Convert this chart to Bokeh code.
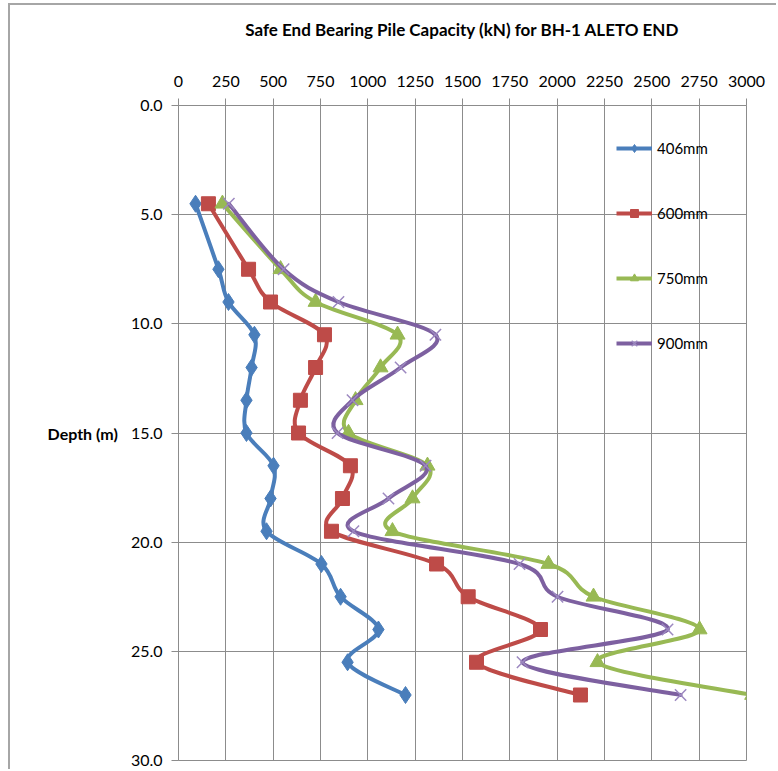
import numpy as np
from bokeh.plotting import figure
from bokeh.models import (Range1d, FixedTicker, PrintfTickFormatter, Legend, LegendItem,
                          Label, ColumnDataSource)
from bokeh.embed import file_html
from bokeh.resources import INLINE

# ---------------- data ----------------
depth = [4.5, 7.5, 9.0, 10.5, 12.0, 13.5, 15.0, 16.5, 18.0, 19.5, 21.0, 22.5, 24.0, 25.5, 27.0]
cap_406 = [90, 211, 264, 401, 386, 359, 359, 502, 486, 465, 755, 856, 1056, 893, 1199]
cap_600 = [158, 370, 486, 771, 724, 644, 634, 908, 866, 808, 1363, 1530, 1912, 1574, 2123]
cap_750 = [232, 539, 724, 1157, 1067, 935, 898, 1315, 1236, 1130, 1954, 2192, 2752, 2213, 3030]
cap_900 = [266, 555, 845, 1357, 1173, 919, 840, 1305, 1109, 924, 1801, 2002, 2583, 1817, 2652]
series_names = ["406mm", "600mm", "750mm", "900mm"]
x_ticks = [0, 250, 500, 750, 1000, 1250, 1500, 1750, 2000, 2250, 2500, 2750, 3000]
y_ticks = [0, 5, 10, 15, 20, 25, 30]
title_text = "Safe End Bearing Pile Capacity (kN) for BH-1 ALETO END"
y_label = "Depth (m)"

# ---------------- styles ----------------
colors = ["#4A7EBB", "#BE4B48", "#98B954", "#7D60A0"]
markers = ["diamond", "square", "triangle", "x"]
msizes = [17, 14, 15, 16]
grid_color = "#8c8c8c"
FONT = "Lato"


def smooth_source(xs, ys):
    """Excel-like smoothed line: Catmull-Rom style cubic Bezier segments."""
    n = len(xs)
    P = list(zip(xs, ys))
    d = dict(x0=[], y0=[], x1=[], y1=[], cx0=[], cy0=[], cx1=[], cy1=[])
    for i in range(n - 1):
        p0 = P[i - 1] if i > 0 else P[i]
        p1 = P[i]
        p2 = P[i + 1]
        p3 = P[i + 2] if i + 2 < n else P[i + 1]
        d["x0"].append(p1[0]); d["y0"].append(p1[1])
        d["x1"].append(p2[0]); d["y1"].append(p2[1])
        d["cx0"].append(p1[0] + (p2[0] - p0[0]) / 6.0)
        d["cy0"].append(p1[1] + (p2[1] - p0[1]) / 6.0)
        d["cx1"].append(p2[0] - (p3[0] - p1[0]) / 6.0)
        d["cy1"].append(p2[1] - (p3[1] - p1[1]) / 6.0)
    return ColumnDataSource(d)


# canvas is offset 10px right / 5px down so that a CSS border draws the chart-area frame
p = figure(width=768, height=766, output_backend="svg", toolbar_location=None,
           x_range=Range1d(0, 3000), y_range=Range1d(30, 0), x_axis_location="above",
           min_border_left=168, min_border_right=32, min_border_top=100, min_border_bottom=11)
p.styles = {"margin-left": "8px", "margin-top": "3px",
            "border-left": "2px solid #a6a6a6", "border-top": "2px solid #a6a6a6"}
p.background_fill_color = "white"
p.border_fill_color = "white"
p.outline_line_color = grid_color

# grids
p.xgrid.ticker = FixedTicker(ticks=x_ticks)
p.ygrid.ticker = FixedTicker(ticks=y_ticks)
for g in (p.xgrid[0], p.ygrid[0]):
    g.grid_line_color = grid_color
    g.grid_line_width = 1

# axes
xa = p.xaxis[0]
xa.ticker = FixedTicker(ticks=x_ticks)
xa.axis_label = title_text
xa.axis_label_text_font = FONT
xa.axis_label_text_font_style = "bold"
xa.axis_label_text_font_size = "17px"
xa.axis_label_text_color = "black"
xa.axis_label_standoff = 33
xa.major_label_text_font = FONT
xa.major_label_text_font_size = "16px"
xa.major_label_text_color = "black"
xa.major_label_standoff = 12

ya = p.yaxis[0]
ya.ticker = FixedTicker(ticks=y_ticks)
ya.formatter = PrintfTickFormatter(format="%.1f")
ya.major_label_text_font = FONT
ya.major_label_text_font_size = "16px"
ya.major_label_text_color = "black"
ya.major_label_standoff = 9

for a in (xa, ya):
    a.axis_line_color = grid_color
    a.major_tick_line_color = grid_color
    a.major_tick_out = 7
    a.major_tick_in = 0
    a.minor_tick_line_color = None

# horizontal "Depth (m)" axis title
if hasattr(ya, "axis_label_orientation"):
    ya.axis_label = y_label
    ya.axis_label_orientation = "horizontal"
    ya.axis_label_text_font = FONT
    ya.axis_label_text_font_style = "bold"
    ya.axis_label_text_font_size = "16px"
    ya.axis_label_text_color = "black"
    ya.axis_label_standoff = 10
else:
    p.add_layout(Label(x=-317, y=15, text=y_label, text_align="right", text_baseline="middle",
                       text_font=FONT, text_font_style="bold", text_font_size="16px",
                       text_color="black"))

# series
all_caps = [cap_406, cap_600, cap_750, cap_900]
items = []
for name, caps, col, mk, ms in zip(series_names, all_caps, colors, markers, msizes):
    src = smooth_source(caps, depth)
    p.bezier(x0="x0", y0="y0", x1="x1", y1="y1", cx0="cx0", cy0="cy0", cx1="cx1", cy1="cy1",
             source=src, line_color=col, line_width=4, line_cap="round")
    # single-point line: draws nothing in the plot, only provides the legend line sample
    leg_line = p.line(x=caps[:1], y=depth[:1], line_color=col, line_width=4)
    if mk == "x":
        sc = p.scatter(caps, depth, marker=mk, size=ms, line_color="#9C88C0", line_width=1.5)
    else:
        sc = p.scatter(caps, depth, marker=mk, size=ms, fill_color=col, line_color=col)
    items.append(LegendItem(label=name, renderers=[leg_line, sc]))

legend = Legend(items=items, location=(438, 407), padding=0, margin=0, spacing=45,
                glyph_width=36, glyph_height=20, label_height=20, label_standoff=5,
                label_text_font=FONT, label_text_font_size="15px", label_text_color="black",
                border_line_color=None, background_fill_alpha=0)
p.add_layout(legend)

open("out.html", "w").write(file_html(p, INLINE))
